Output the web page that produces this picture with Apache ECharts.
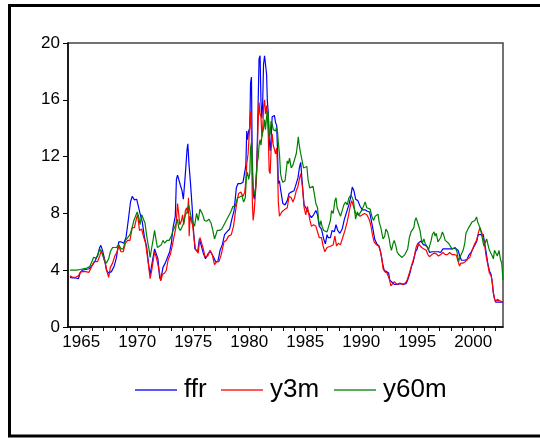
<!DOCTYPE html>
<html>
<head>
<meta charset="utf-8">
<script src="https://cdn.jsdelivr.net/npm/echarts@6/dist/echarts.min.js"></script>
<style>
html,body{margin:0;padding:0;background:#fff;}
#chart{width:540px;height:438px;}
</style>
</head>
<body>
<div id="chart"></div>
<script>
// Tick labels
const xTickYears = [1964,1965,1966,1967,1968,1969,1970,1971,1972,1973,1974,1975,1976,1977,1978,1979,1980,1981,1982,1983,1984,1985,1986,1987,1988,1989,1990,1991,1992,1993,1994,1995,1996,1997,1998,1999,2000,2001,2002];
const xLabelYears = [1965,1970,1975,1980,1985,1990,1995,2000];
const seriesNames = ['ffr','y3m','y60m'];

// ffr
const ffrDates = [1964.0,1964.25,1964.5,1964.75,1964.92,1965.1,1965.4,1965.7,1965.95,1966.2,1966.45,1966.65,1966.75,1966.9,1967.05,1967.25,1967.45,1967.7,1967.95,1968.15,1968.35,1968.55,1968.8,1969.0,1969.2,1969.4,1969.55,1969.75,1969.95,1970.1,1970.25,1970.45,1970.65,1970.85,1971.0,1971.15,1971.35,1971.55,1971.7,1971.85,1972.0,1972.1,1972.3,1972.5,1972.7,1972.9,1973.05,1973.2,1973.4,1973.5,1973.6,1973.7,1973.85,1974.0,1974.12,1974.3,1974.45,1974.52,1974.62,1974.75,1974.9,1975.0,1975.15,1975.4,1975.55,1975.7,1975.9,1976.1,1976.35,1976.55,1976.8,1977.0,1977.2,1977.4,1977.6,1977.8,1978.0,1978.25,1978.45,1978.65,1978.85,1979.0,1979.25,1979.45,1979.6,1979.7,1979.78,1979.85,1979.95,1980.05,1980.12,1980.2,1980.28,1980.35,1980.45,1980.55,1980.65,1980.72,1980.8,1980.88,1980.97,1981.05,1981.13,1981.2,1981.28,1981.37,1981.45,1981.55,1981.62,1981.7,1981.78,1981.87,1981.95,1982.05,1982.15,1982.25,1982.35,1982.45,1982.52,1982.6,1982.7,1982.8,1982.9,1983.0,1983.2,1983.4,1983.55,1983.75,1984.0,1984.2,1984.35,1984.5,1984.6,1984.75,1984.9,1985.05,1985.2,1985.4,1985.55,1985.75,1985.95,1986.1,1986.25,1986.45,1986.65,1986.8,1986.95,1987.05,1987.25,1987.4,1987.6,1987.75,1987.9,1988.1,1988.3,1988.5,1988.7,1988.9,1989.05,1989.2,1989.35,1989.5,1989.7,1989.9,1990.1,1990.35,1990.55,1990.75,1990.9,1991.05,1991.2,1991.4,1991.6,1991.75,1991.9,1992.05,1992.25,1992.45,1992.55,1992.75,1992.95,1993.25,1993.5,1993.75,1994.0,1994.15,1994.35,1994.5,1994.65,1994.85,1995.0,1995.15,1995.35,1995.55,1995.75,1995.95,1996.1,1996.35,1996.6,1996.85,1997.1,1997.3,1997.6,1997.85,1998.1,1998.4,1998.65,1998.8,1998.95,1999.2,1999.45,1999.6,1999.8,1999.95,2000.1,2000.3,2000.45,2000.7,2000.9,2001.0,2001.15,2001.3,2001.45,2001.6,2001.7,2001.8,2001.9,2002.0,2002.3,2002.66];
const ffrValues = [3.5,3.45,3.45,3.4,3.85,4.0,4.05,4.1,4.3,4.6,5.0,5.6,5.75,5.4,4.9,4.0,3.8,3.9,4.3,4.9,6.0,6.0,5.9,6.3,7.5,8.8,9.2,8.95,9.0,8.9,8.0,7.4,6.3,5.6,4.5,3.7,4.6,5.5,5.4,4.8,3.5,3.3,4.2,4.5,4.9,5.3,5.9,7.0,7.8,10.4,10.7,10.7,10.0,9.6,9.0,10.8,12.5,12.9,11.5,10.2,8.5,7.1,5.5,5.3,6.2,6.2,5.2,4.8,5.2,5.3,4.95,4.6,4.6,5.4,5.8,6.5,6.7,6.9,7.6,8.2,9.8,10.1,10.1,10.2,10.9,11.4,13.8,13.2,13.8,14.0,17.2,17.6,11.0,9.5,9.0,9.6,10.9,12.8,15.9,18.9,19.1,15.9,14.7,15.7,18.5,19.1,19.0,17.8,15.9,15.1,13.3,12.4,13.2,14.8,14.7,14.9,14.4,14.2,12.6,10.1,10.3,9.7,9.2,8.7,8.6,8.9,9.4,9.5,9.6,10.1,10.5,11.3,11.6,10.0,8.6,8.4,8.5,7.9,7.7,7.9,8.2,7.9,7.1,6.9,6.2,5.85,6.5,6.3,6.3,6.8,6.7,7.2,6.8,6.6,6.9,7.6,8.1,8.6,9.1,9.85,9.6,9.0,8.9,8.5,8.25,8.25,8.15,8.1,7.5,6.9,6.2,5.85,5.7,5.2,4.5,4.0,3.9,3.8,3.3,3.15,3.0,3.0,3.05,3.0,3.05,3.3,3.8,4.3,4.6,5.3,5.5,5.95,6.05,5.8,5.75,5.6,5.25,5.3,5.3,5.3,5.25,5.5,5.5,5.5,5.5,5.55,5.4,5.0,4.7,4.7,4.75,5.05,5.25,5.35,5.7,6.0,6.5,6.5,6.5,6.0,5.3,4.5,3.95,3.7,3.1,2.4,2.0,1.75,1.75,1.75];

// y3m
const y3mDates = [1964.0,1964.25,1964.5,1964.75,1964.92,1965.1,1965.4,1965.7,1965.95,1966.15,1966.45,1966.65,1966.8,1966.95,1967.1,1967.3,1967.45,1967.6,1967.8,1968.0,1968.2,1968.35,1968.55,1968.75,1968.95,1969.15,1969.35,1969.55,1969.75,1969.95,1970.05,1970.2,1970.4,1970.55,1970.75,1970.9,1971.05,1971.15,1971.3,1971.45,1971.55,1971.7,1971.85,1972.0,1972.1,1972.25,1972.45,1972.6,1972.75,1972.95,1973.1,1973.25,1973.45,1973.6,1973.7,1973.8,1973.95,1974.05,1974.15,1974.3,1974.42,1974.5,1974.58,1974.64,1974.72,1974.85,1974.95,1975.05,1975.2,1975.35,1975.45,1975.6,1975.75,1975.9,1976.05,1976.3,1976.5,1976.7,1976.9,1977.1,1977.3,1977.5,1977.75,1977.95,1978.15,1978.4,1978.6,1978.75,1978.9,1979.05,1979.25,1979.45,1979.6,1979.7,1979.78,1979.9,1980.05,1980.12,1980.2,1980.28,1980.35,1980.45,1980.55,1980.65,1980.72,1980.8,1980.88,1980.97,1981.05,1981.13,1981.2,1981.28,1981.37,1981.45,1981.55,1981.62,1981.7,1981.78,1981.87,1981.95,1982.05,1982.15,1982.25,1982.35,1982.45,1982.52,1982.6,1982.7,1982.8,1982.9,1983.0,1983.2,1983.4,1983.55,1983.75,1983.9,1984.05,1984.2,1984.35,1984.5,1984.6,1984.75,1984.9,1985.05,1985.2,1985.4,1985.55,1985.75,1985.95,1986.1,1986.25,1986.45,1986.6,1986.75,1986.95,1987.1,1987.3,1987.5,1987.65,1987.8,1987.95,1988.15,1988.35,1988.55,1988.75,1988.9,1989.05,1989.15,1989.35,1989.5,1989.7,1989.9,1990.1,1990.3,1990.5,1990.7,1990.85,1991.0,1991.15,1991.35,1991.55,1991.7,1991.85,1991.95,1992.1,1992.3,1992.5,1992.65,1992.8,1992.95,1993.2,1993.45,1993.7,1993.95,1994.1,1994.3,1994.45,1994.6,1994.75,1994.9,1995.05,1995.2,1995.4,1995.6,1995.8,1995.95,1996.1,1996.3,1996.5,1996.7,1996.9,1997.1,1997.3,1997.5,1997.7,1997.9,1998.1,1998.3,1998.5,1998.65,1998.78,1998.9,1999.1,1999.3,1999.5,1999.7,1999.9,2000.1,2000.3,2000.45,2000.6,2000.75,2000.9,2001.0,2001.15,2001.3,2001.45,2001.6,2001.7,2001.8,2001.9,2002.0,2002.15,2002.3,2002.5,2002.66];
const y3mValues = [3.6,3.5,3.5,3.6,3.85,3.9,3.9,3.85,4.3,4.6,4.6,5.0,5.4,5.0,4.7,3.9,3.5,4.2,4.5,5.0,5.3,5.7,5.3,5.3,5.9,6.1,6.1,7.0,7.0,7.7,7.9,6.8,6.9,6.4,5.9,5.0,4.1,3.4,4.0,4.8,5.3,4.9,4.4,3.8,3.25,3.7,3.8,4.0,4.7,5.1,5.6,6.2,7.0,8.7,8.0,7.2,7.5,7.9,7.2,8.2,8.4,8.0,9.1,6.4,7.8,7.4,7.2,6.4,5.5,5.5,5.2,6.3,6.4,5.5,4.95,5.0,5.4,5.1,4.4,4.6,4.6,5.1,6.0,6.1,6.4,6.5,7.1,8.0,8.8,9.4,9.5,9.2,9.5,10.3,11.5,12.2,12.1,15.2,13.5,8.8,7.5,8.2,9.3,10.5,12.3,14.5,15.8,15.0,14.8,13.4,13.8,15.5,16.0,15.0,15.6,14.8,13.6,11.0,10.8,12.4,13.6,12.8,12.8,12.2,12.6,11.4,8.8,7.8,7.8,8.1,8.0,8.3,8.4,9.2,9.1,8.8,9.1,9.6,9.9,10.5,10.8,9.9,8.4,7.9,8.5,7.6,7.1,7.2,7.1,7.0,6.3,6.3,5.7,5.3,5.6,5.6,5.7,5.8,6.4,5.7,5.9,5.8,6.3,6.8,7.4,8.0,8.6,8.9,8.4,8.0,7.9,7.8,7.9,8.0,7.9,7.6,7.2,6.5,6.0,5.8,5.7,5.4,4.8,4.1,3.9,3.8,3.4,2.9,3.0,3.2,3.0,3.1,3.0,3.1,3.3,3.8,4.2,4.6,5.0,5.6,5.9,5.8,5.6,5.5,5.4,5.1,4.95,5.1,5.2,5.15,5.0,5.1,5.25,5.1,5.1,5.25,5.1,5.1,5.05,4.6,4.3,4.5,4.5,4.6,4.8,4.9,5.4,5.8,6.1,6.6,7.0,6.7,6.6,5.9,5.0,4.4,3.8,3.6,3.2,2.4,2.0,1.8,1.95,1.85,1.8,1.75];

// y60m
const y60mDates = [1964.0,1964.3,1964.6,1964.9,1965.2,1965.5,1965.75,1965.95,1966.1,1966.3,1966.5,1966.65,1966.8,1966.95,1967.05,1967.25,1967.45,1967.6,1967.8,1967.95,1968.15,1968.35,1968.55,1968.75,1968.95,1969.15,1969.35,1969.55,1969.7,1969.85,1970.0,1970.15,1970.25,1970.4,1970.55,1970.7,1970.85,1970.95,1971.05,1971.15,1971.3,1971.45,1971.55,1971.65,1971.8,1971.95,1972.15,1972.3,1972.45,1972.65,1972.85,1973.05,1973.2,1973.35,1973.5,1973.6,1973.7,1973.85,1974.0,1974.15,1974.3,1974.45,1974.6,1974.72,1974.85,1975.0,1975.12,1975.3,1975.45,1975.6,1975.7,1975.85,1976.0,1976.2,1976.4,1976.6,1976.75,1976.9,1977.0,1977.15,1977.35,1977.55,1977.75,1977.95,1978.15,1978.35,1978.55,1978.75,1978.95,1979.15,1979.35,1979.5,1979.65,1979.75,1979.85,1979.95,1980.05,1980.12,1980.2,1980.28,1980.35,1980.45,1980.55,1980.65,1980.72,1980.8,1980.88,1980.97,1981.05,1981.13,1981.2,1981.28,1981.37,1981.45,1981.55,1981.62,1981.7,1981.78,1981.87,1981.95,1982.05,1982.15,1982.25,1982.35,1982.45,1982.52,1982.6,1982.7,1982.8,1982.9,1983.0,1983.1,1983.2,1983.3,1983.4,1983.5,1983.6,1983.75,1983.9,1984.05,1984.2,1984.3,1984.38,1984.45,1984.55,1984.7,1984.85,1985.0,1985.15,1985.25,1985.4,1985.55,1985.7,1985.85,1985.95,1986.1,1986.2,1986.3,1986.4,1986.5,1986.65,1986.8,1986.95,1987.1,1987.25,1987.35,1987.5,1987.65,1987.75,1987.85,1988.0,1988.15,1988.3,1988.45,1988.6,1988.75,1988.9,1989.1,1989.2,1989.3,1989.4,1989.5,1989.65,1989.8,1989.95,1990.1,1990.25,1990.35,1990.5,1990.65,1990.8,1990.95,1991.1,1991.25,1991.4,1991.5,1991.6,1991.75,1991.85,1991.95,1992.1,1992.2,1992.35,1992.5,1992.6,1992.7,1992.85,1992.95,1993.1,1993.2,1993.35,1993.5,1993.65,1993.75,1993.9,1994.05,1994.15,1994.3,1994.45,1994.55,1994.7,1994.8,1994.9,1995.0,1995.1,1995.25,1995.35,1995.45,1995.6,1995.7,1995.85,1996.0,1996.15,1996.25,1996.35,1996.5,1996.6,1996.7,1996.85,1996.95,1997.1,1997.25,1997.35,1997.5,1997.65,1997.8,1997.95,1998.1,1998.25,1998.4,1998.55,1998.7,1998.8,1998.95,1999.1,1999.25,1999.35,1999.5,1999.6,1999.75,1999.9,2000.05,2000.15,2000.3,2000.4,2000.5,2000.6,2000.7,2000.8,2000.95,2001.05,2001.2,2001.35,2001.45,2001.6,2001.7,2001.8,2001.9,2002.0,2002.15,2002.3,2002.45,2002.55,2002.66];
const y60mValues = [4.0,4.0,4.0,4.05,4.1,4.15,4.25,4.6,4.9,4.85,5.1,5.5,5.3,5.0,4.7,4.5,4.8,5.3,5.6,5.7,5.6,5.8,5.5,5.5,6.1,6.3,6.5,7.0,7.5,7.5,8.1,7.7,7.2,7.9,7.6,7.3,6.4,5.9,5.5,4.9,5.6,6.3,6.8,6.3,5.6,5.6,5.8,6.1,5.9,6.1,6.1,6.4,6.8,6.7,7.3,7.6,7.0,6.8,6.9,7.3,7.9,8.1,8.6,8.1,7.6,7.3,7.1,8.0,7.5,8.3,8.4,7.9,7.5,7.45,7.6,7.3,6.8,6.2,6.1,6.8,6.8,6.9,7.2,7.5,7.8,8.1,8.5,8.5,9.1,9.15,9.25,8.8,9.1,10.6,10.9,10.4,10.8,12.6,13.0,11.8,9.9,9.3,9.6,10.9,11.6,11.9,12.8,13.2,12.8,13.4,13.4,14.0,14.6,13.9,14.8,15.2,15.0,13.4,13.6,14.5,14.3,13.9,13.8,13.8,14.1,13.8,13.0,12.2,10.8,10.4,10.2,10.1,10.3,10.2,11.7,11.5,11.9,11.2,11.4,11.4,12.2,12.8,13.4,12.9,12.4,11.8,11.2,11.1,11.3,10.4,9.8,9.7,9.9,9.2,8.7,8.4,7.5,7.1,7.5,7.1,6.8,6.8,6.7,6.7,7.5,8.2,8.0,8.9,9.1,8.4,8.3,7.8,8.2,8.6,8.8,8.6,9.1,9.3,9.4,8.9,8.3,7.6,8.1,7.9,7.8,8.3,8.6,8.8,8.4,8.5,8.3,7.8,7.5,7.8,7.7,7.95,7.4,7.0,6.6,6.2,6.4,6.9,6.7,6.2,5.7,5.4,5.9,6.1,5.7,5.3,5.1,5.2,4.9,4.8,5.1,5.1,5.5,6.3,6.7,6.8,7.0,7.5,7.7,7.6,7.2,6.8,6.3,5.9,6.2,5.9,5.7,5.4,5.5,6.1,6.5,6.7,6.4,6.6,6.0,6.1,6.3,6.7,6.5,6.1,6.2,5.9,5.8,5.5,5.6,5.6,5.3,4.6,4.9,5.0,5.4,5.9,6.6,6.6,7.0,7.0,7.4,7.3,7.5,7.75,7.4,7.3,7.0,6.7,6.3,5.7,5.6,6.2,5.7,5.4,5.3,5.0,4.8,5.4,5.3,5.0,5.4,4.7,4.5,3.3];

function pairs(dates, values) {
  return dates.map(function (d, i) { return [d, values[i]]; });
}

const FONT = "'Liberation Sans', Arial, sans-serif";
const colors = ['#0000ff', '#ff0000', '#008000'];

const chart = echarts.init(document.getElementById('chart'), null, { renderer: 'canvas' });

function legendFor(name, left) {
  return {
    data: [name],
    left: left,
    top: 372,
    icon: 'rect',
    itemWidth: 42,
    itemHeight: 2,
    itemGap: 0,
    selectedMode: false,
    itemStyle: { opacity: 0.65 },
    textStyle: { fontFamily: FONT, fontSize: 26, color: '#000', padding: [0, 0, 0, 2] }
  };
}

chart.setOption({
  animation: false,
  backgroundColor: '#ffffff',
  color: colors,
  graphic: [{
    type: 'rect',
    shape: { x: 9.5, y: 5.5, width: 600, height: 430.5 },
    style: { fill: 'none', stroke: '#000', lineWidth: 3 },
    silent: true
  }],
  legend: [legendFor(seriesNames[0], 130), legendFor(seriesNames[1], 216), legendFor(seriesNames[2], 329)],
  grid: {
    left: 68, right: 37, top: 43, bottom: 111,
    show: true, borderColor: '#444', borderWidth: 1.5, backgroundColor: '#fff'
  },
  xAxis: {
    type: 'value',
    min: 1963.82,
    max: 2002.66,
    splitLine: { show: false },
    axisLine: { show: true, onZero: false, lineStyle: { color: '#000', width: 1.5 } },
    axisTick: { show: true, inside: false, length: 4, customValues: xTickYears, lineStyle: { color: '#000', width: 1 } },
    axisLabel: {
      customValues: xLabelYears,
      margin: 7,
      fontFamily: FONT, fontSize: 17, color: '#000',
      formatter: function (v) { return String(Math.round(v)); }
    }
  },
  yAxis: {
    type: 'value',
    min: 0, max: 20, interval: 4,
    splitLine: { show: false },
    axisLine: { show: true, lineStyle: { color: '#000', width: 1.5 } },
    axisTick: { show: true, inside: false, length: 5, lineStyle: { color: '#000', width: 1 } },
    axisLabel: { margin: 8, fontFamily: FONT, fontSize: 17, color: '#000' }
  },
  series: [
    { name: 'ffr', type: 'line', data: pairs(ffrDates, ffrValues), showSymbol: false, lineStyle: { width: 1.2, color: colors[0] }, itemStyle: { color: colors[0] } },
    { name: 'y3m', type: 'line', data: pairs(y3mDates, y3mValues), showSymbol: false, lineStyle: { width: 1.2, color: colors[1] }, itemStyle: { color: colors[1] } },
    { name: 'y60m', type: 'line', data: pairs(y60mDates, y60mValues), showSymbol: false, lineStyle: { width: 1.2, color: colors[2] }, itemStyle: { color: colors[2] } }
  ]
});
</script>
</body>
</html>
